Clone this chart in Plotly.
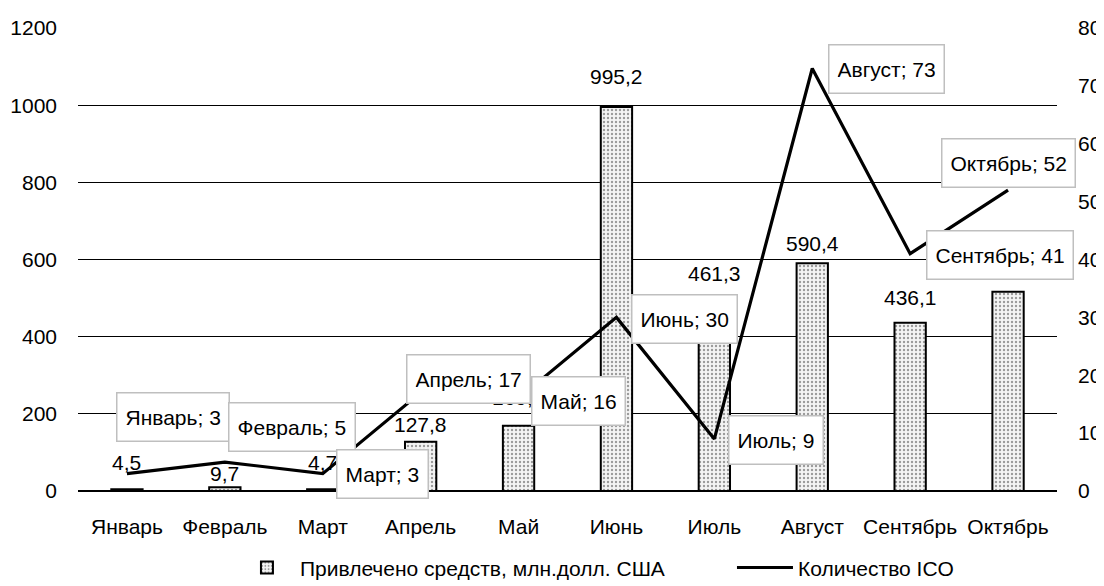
import plotly.graph_objects as go

months = ["Январь", "Февраль", "Март", "Апрель", "Май", "Июнь", "Июль", "Август", "Сентябрь", "Октябрь"]
funds = [4.5, 9.7, 4.7, 127.8, 169.3, 995.2, 461.3, 590.4, 436.1, 516.6]
ico_count = [3, 5, 3, 17, 16, 30, 9, 73, 41, 52]
bar_name = "Привлечено средств, млн.долл. США"
line_name = "Количество ICO"
# label offsets (pixels) for the line data labels
label_dx = [46, 67, 60, 48, 60, 68, 62, 74, 90, 0]
label_dy = [-57, -35, 0, -14, 3, 2, 1, 0, 1, -27]
# vertical gap (pixels) of the bar value labels
bar_label_shift = [13, 0, 13, 4, 15, 17, 26, 6, 12, 12]

FONT = "Liberation Sans, Arial, sans-serif"

fig = go.Figure()
fig.add_trace(go.Bar(
    x=months, y=funds, name=bar_name, width=0.32,
    marker=dict(color="#f0f0f0", line=dict(color="#000000", width=2),
                pattern=dict(shape=".", fgcolor="#404040", bgcolor="#f4f4f4", size=4, solidity=0.28)),
    yaxis="y", legend="legend",
))
fig.add_trace(go.Scatter(
    x=months, y=ico_count, name=line_name, mode="lines",
    line=dict(color="#000000", width=3.2), yaxis="y2", legend="legend2",
))

# bar value labels
for m, v, s in zip(months, funds, bar_label_shift):
    fig.add_annotation(
        x=m, y=v, xref="x", yref="y", text=f"{v:.1f}".replace(".", ","),
        showarrow=False, yanchor="bottom", yshift=s,
        font=dict(size=21, color="#000000", family=FONT),
    )

# line labels
for m, v, dx, dy in zip(months, ico_count, label_dx, label_dy):
    fig.add_annotation(
        x=m, y=v, xref="x", yref="y2", text=f"{m}; {v}",
        showarrow=True, arrowcolor="rgba(0,0,0,0)", arrowwidth=0.1, ax=dx, ay=dy,
        font=dict(size=21, color="#000000", family=FONT),
        height=31,
        bgcolor="#ffffff", bordercolor="#bfbfbf", borderwidth=1.5, borderpad=8,
    )

legend_common = dict(orientation="h", y=-0.166, yanchor="middle", xanchor="left",
                     font=dict(size=21, family=FONT), itemwidth=56, bgcolor="rgba(0,0,0,0)")

fig.update_layout(
    width=1096, height=578,
    margin=dict(l=70, r=47, t=20, b=95, autoexpand=False),
    paper_bgcolor="#ffffff", plot_bgcolor="#ffffff",
    font=dict(family=FONT, size=21, color="#000000"),
    separators=", ",
    showlegend=True,
    legend=dict(x=0.1593, **legend_common),
    legend2=dict(x=0.668, **legend_common),
    xaxis=dict(range=[-0.5, 9.5], showgrid=False, showline=False, ticks="", ticklabelstandoff=21,
               tickfont=dict(size=21), automargin=False),
    yaxis=dict(range=[0, 1200], dtick=200, showgrid=True, gridcolor="#000000", gridwidth=1,
               zeroline=True, zerolinecolor="#000000", zerolinewidth=1.5, automargin=False,
               showline=False, ticks="", ticklabelstandoff=20, tickfont=dict(size=21)),
    yaxis2=dict(range=[0, 80], dtick=10, overlaying="y", side="right", showgrid=False,
                zeroline=False, showline=False, ticks="", ticklabelstandoff=20, automargin=False,
                tickfont=dict(size=21)),
)

fig.write_html("out.html")
